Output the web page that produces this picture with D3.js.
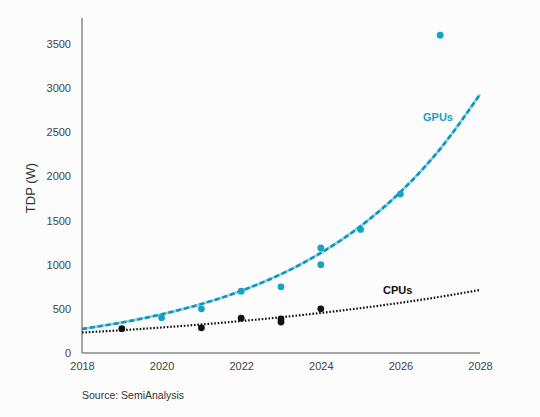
<!DOCTYPE html>
<html><head><meta charset="utf-8">
<script src="https://cdn.jsdelivr.net/npm/d3@7"></script>
<style>
html,body{margin:0;padding:0;background:#fbfcfb;}
svg{display:block;font-family:"Liberation Sans",Arial,sans-serif;}
</style></head><body>
<svg id="c" width="540" height="417"></svg>
<script>
// Data
const gpuYears = [2020, 2021, 2022, 2023, 2024, 2024, 2025, 2026, 2027];
const gpuTDP   = [400, 500, 700, 750, 1000, 1190, 1400, 1800, 3600];
const cpuYears = [2019, 2021, 2022, 2023, 2023, 2024];
const cpuTDP   = [275, 285, 395, 385, 350, 500];
// Trend-line values at each year
const trendYears = [2018, 2019, 2020, 2021, 2022, 2023, 2024, 2025, 2026, 2027, 2028];
const gpuTrend   = [272, 345, 438, 555, 704, 893, 1133, 1437, 1823, 2312, 2930];
const cpuTrend   = [232, 258, 289, 323, 362, 405, 454, 508, 569, 637, 714];
const xTicks = [2018, 2020, 2022, 2024, 2026, 2028];
const yTicks = [0, 500, 1000, 1500, 2000, 2500, 3000, 3500];

const svg = d3.select("#c");
const x = d3.scaleLinear().domain([2018, 2028]).range([82, 480]);
const y = d3.scaleLinear().domain([0, 3500]).range([353, 44]);
const yTop = 3795;

// axes
const xAxis = svg.append("g").attr("transform", `translate(0,${y(0)})`)
  .call(d3.axisBottom(x).tickValues(xTicks).tickFormat(d3.format("d")).tickSize(0).tickPadding(9));
const yAxis = svg.append("g").attr("transform", `translate(${x(2018)},0)`)
  .call(d3.axisLeft(y).tickValues(yTicks).tickFormat(d3.format("d")).tickSize(0).tickPadding(11));
[xAxis, yAxis].forEach(g => {
  g.select(".domain").remove();
  g.selectAll("text").attr("fill", "#444").style("font-size", "11px");
});
svg.append("line").attr("x1", x(2018)).attr("x2", x(2018)).attr("y1", y(yTop)).attr("y2", y(0))
  .attr("stroke", "#8a8a8a").attr("stroke-width", 1.5);
svg.append("line").attr("x1", x(2018)).attr("x2", x(2028)).attr("y1", y(0)).attr("y2", y(0))
  .attr("stroke", "#8a8a8a").attr("stroke-width", 1.5);

// trend lines
const line = (vals) => d3.line().curve(d3.curveMonotoneX)
  .x((d, i) => x(trendYears[i])).y(d => y(d))(vals);
svg.append("path").attr("d", line(cpuTrend)).attr("fill", "none")
  .attr("stroke", "#111").attr("stroke-width", 2.2).attr("stroke-dasharray", "1.6,1.8");
svg.append("path").attr("d", line(gpuTrend)).attr("fill", "none")
  .attr("stroke", "#6fdcf0").attr("stroke-width", 2.6);
svg.append("path").attr("d", line(gpuTrend)).attr("fill", "none")
  .attr("stroke", "#1b8fb5").attr("stroke-width", 2.6).attr("stroke-dasharray", "5,3");

// points
svg.append("g").selectAll("circle").data(cpuTDP).join("circle")
  .attr("cx", (d, i) => x(cpuYears[i])).attr("cy", d => y(d)).attr("r", 3.4).attr("fill", "#111");
svg.append("g").selectAll("circle").data(gpuTDP).join("circle")
  .attr("cx", (d, i) => x(gpuYears[i])).attr("cy", d => y(d)).attr("r", 3.4).attr("fill", "#17a2c4");

// labels
svg.append("text").attr("x", 423).attr("y", 121).text("GPUs")
  .attr("fill", "#1aa0c6").style("font-size", "11px").style("font-weight", "bold");
svg.append("text").attr("x", 383).attr("y", 294).text("CPUs")
  .attr("fill", "#111").style("font-size", "11px").style("font-weight", "bold");
svg.append("text").attr("transform", "translate(35,188) rotate(-90)").attr("text-anchor", "middle")
  .text("TDP (W)").attr("fill", "#333").style("font-size", "13px");
svg.append("text").attr("x", 82).attr("y", 399).text("Source: SemiAnalysis")
  .attr("fill", "#333").style("font-size", "10.5px");
</script>
</body></html>
